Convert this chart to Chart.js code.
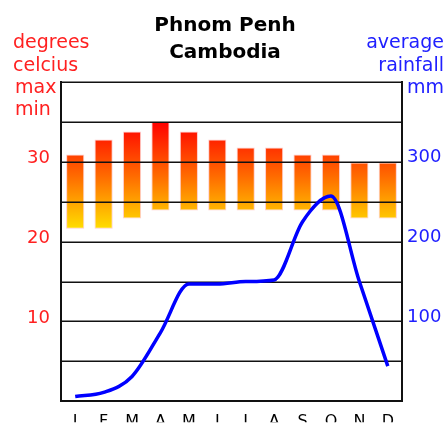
<!DOCTYPE html>
<html>
<head>
<meta charset="utf-8">
<script src="https://cdn.jsdelivr.net/npm/chart.js@4.4.1/dist/chart.umd.min.js"></script>
<style>
  body { margin: 0; background: #fff; }
  canvas { display: block; }
</style>
</head>
<body>
<canvas id="climate" width="446" height="423"></canvas>
<script>
// Phnom Penh climate data
const months = ['J', 'F', 'M', 'A', 'M', 'J', 'J', 'A', 'S', 'O', 'N', 'D'];
const tempMax = [30.9, 32.8, 33.8, 35, 33.8, 32.8, 31.8, 31.8, 30.9, 30.9, 29.9, 29.9];
const tempMin = [21.6, 21.6, 22.9, 23.9, 23.9, 23.9, 23.9, 23.9, 23.9, 23.9, 22.9, 22.9];
const rainfall = [6, 11, 31, 86, 147, 147, 150, 152, 225, 257, 150, 44];

const tempTicks = [10, 20, 30];
const rainTicks = [100, 200, 300];

const FONT = '"DejaVu Sans", sans-serif';

// grid lines go over the bars but under the rainfall line
const gridOverBars = {
  id: 'gridOverBars',
  afterDatasetDraw(chart, args) {
    if (args.index !== 0) return;
    const { ctx, chartArea } = chart;
    const y = chart.scales.y;
    ctx.save();
    ctx.strokeStyle = '#111';
    ctx.lineWidth = 1.5;
    y.ticks.forEach(t => {
      const py = Math.round(y.getPixelForValue(t.value)) + 0.25;
      ctx.beginPath();
      ctx.moveTo(chartArea.left, py);
      ctx.lineTo(chartArea.right, py);
      ctx.stroke();
    });
    ctx.restore();
  }
};

// title and the unit captions in the corners
const captions = {
  id: 'captions',
  afterDraw(chart) {
    const ctx = chart.ctx;
    ctx.save();
    ctx.fillStyle = '#000';
    ctx.font = 'bold 20px ' + FONT;
    ctx.textAlign = 'center';
    ctx.textBaseline = 'alphabetic';
    ctx.fillText('Phnom Penh', 225, 31);
    ctx.fillText('Cambodia', 225, 58);

    ctx.font = '19px ' + FONT;
    ctx.fillStyle = '#ff2020';
    ctx.textAlign = 'left';
    ctx.fillText('degrees', 13, 48);
    ctx.fillText('celcius', 13, 71);
    ctx.fillText('max', 15, 93);
    ctx.fillText('min', 15, 115);

    ctx.fillStyle = '#2020ff';
    ctx.textAlign = 'right';
    ctx.fillText('average', 444, 48);
    ctx.fillText('rainfall', 444, 71);
    ctx.fillText('mm', 444, 93);
    ctx.restore();
  }
};

function barGradient(context) {
  const chart = context.chart;
  const y = chart.scales.y;
  if (!chart.chartArea || !y) return '#ff6000';
  const g = chart.ctx.createLinearGradient(0, y.getPixelForValue(35), 0, y.getPixelForValue(21.5));
  g.addColorStop(0, '#ff0000');
  g.addColorStop(0.5, '#ff6a00');
  g.addColorStop(1, '#ffe000');
  return g;
}

new Chart(document.getElementById('climate'), {
  data: {
    labels: months,
    datasets: [
      {
        type: 'bar',
        label: 'Temperature',
        data: tempMin.map((lo, i) => [lo, tempMax[i]]),
        backgroundColor: barGradient,
        borderColor: 'rgba(255,170,170,0.6)',
        borderWidth: 1,
        borderSkipped: false,
        barPercentage: 0.64,
        categoryPercentage: 1,
        yAxisID: 'y',
        order: 1
      },
      {
        type: 'line',
        label: 'Rainfall',
        data: rainfall,
        borderColor: '#0000ff',
        borderWidth: 3.5,
        pointRadius: 0,
        cubicInterpolationMode: 'monotone',
        yAxisID: 'y1',
        order: 0
      }
    ]
  },
  options: {
    responsive: false,
    animation: false,
    layout: { padding: { top: 82 } },
    plugins: {
      legend: { display: false },
      tooltip: { enabled: false },
      title: { display: false }
    },
    scales: {
      x: {
        grid: { display: false, drawTicks: false },
        border: { display: true, color: '#111', width: 2 },
        ticks: { color: '#000', font: { family: FONT, size: 16 }, padding: 11, maxRotation: 0 },
        afterFit: s => { s.height = 21; }
      },
      y: {
        position: 'left',
        min: 0,
        max: 40,
        grid: { display: false, drawTicks: false },
        border: { display: true, color: '#111', width: 2 },
        ticks: {
          stepSize: 5,
          color: '#ff2020',
          font: { family: FONT, size: 18 },
          padding: 11,
          labelOffset: -3,
          callback: v => tempTicks.includes(v) ? String(v) : ''
        },
        afterFit: s => { s.width = 61; }
      },
      y1: {
        position: 'right',
        min: 0,
        max: 400,
        grid: { display: false, drawTicks: false },
        border: { display: true, color: '#111', width: 2 },
        ticks: {
          stepSize: 100,
          color: '#2020ff',
          font: { family: FONT, size: 18 },
          padding: 5,
          labelOffset: -4,
          callback: v => rainTicks.includes(v) ? String(v) : ''
        },
        afterFit: s => { s.width = 44; }
      }
    }
  },
  plugins: [gridOverBars, captions]
});
</script>
</body>
</html>
